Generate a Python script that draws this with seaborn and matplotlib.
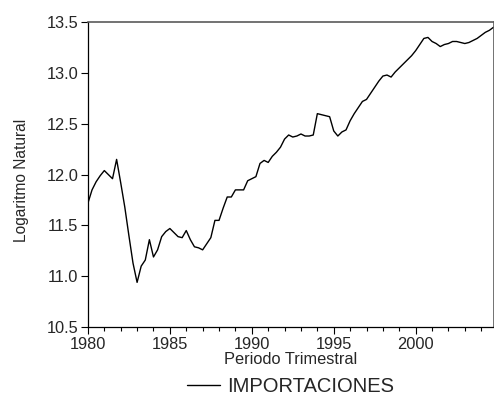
import matplotlib
matplotlib.use("Agg")
import matplotlib.pyplot as plt
from matplotlib.ticker import MultipleLocator, FormatStrFormatter
import numpy as np
import pandas as pd
import seaborn as sns

# Quarterly series, 1980Q1 - 2004Q4 (log of imports)
start_year = 1980
quarters_per_year = 4
importaciones = [
    11.72, 11.85, 11.93, 11.99, 12.04, 12.00, 11.96, 12.15, 11.92, 11.68,
    11.40, 11.13, 10.94, 11.10, 11.16, 11.36, 11.19, 11.26, 11.39, 11.44,
    11.47, 11.43, 11.39, 11.38, 11.45, 11.36, 11.29, 11.28, 11.26, 11.32,
    11.38, 11.55, 11.55, 11.67, 11.78, 11.78, 11.85, 11.85, 11.85, 11.94,
    11.96, 11.98, 12.11, 12.14, 12.12, 12.18, 12.22, 12.27, 12.35, 12.39,
    12.37, 12.38, 12.40, 12.38, 12.38, 12.39, 12.60, 12.59, 12.58, 12.57,
    12.43, 12.38, 12.42, 12.44, 12.53, 12.60, 12.66, 12.72, 12.74, 12.80,
    12.86, 12.92, 12.97, 12.98, 12.96, 13.01, 13.05, 13.09, 13.13, 13.17,
    13.22, 13.28, 13.34, 13.35, 13.31, 13.29, 13.26, 13.28, 13.29, 13.31,
    13.31, 13.30, 13.29, 13.30, 13.32, 13.34, 13.37, 13.40, 13.42, 13.45,
]
x_ticks = [1980, 1985, 1990, 1995, 2000]
y_ticks = [10.5, 11.0, 11.5, 12.0, 12.5, 13.0, 13.5]
series_name = "IMPORTACIONES"

periodo = start_year + np.arange(len(importaciones)) / quarters_per_year
df = pd.DataFrame({"Periodo": periodo, "Valor": importaciones, "Serie": series_name})

sns.set_theme(style="white")
plt.rcParams["font.family"] = ["Liberation Sans", "DejaVu Sans"]

fig = plt.figure(figsize=(4.94, 3.96), dpi=100)
ax = fig.add_axes([0.178, 0.174, 0.821, 0.770])

sns.lineplot(data=df, x="Periodo", y="Valor", hue="Serie", palette=["black"],
             linewidth=1.0, ax=ax, legend=False)

ax.set_xlim(periodo[0], periodo[-1])
ax.set_ylim(10.5, 13.5)
ax.set_xticks(x_ticks)
ax.xaxis.set_minor_locator(MultipleLocator(1))
ax.set_yticks(y_ticks)
ax.yaxis.set_major_formatter(FormatStrFormatter("%.1f"))

ax.tick_params(axis="both", which="major", direction="out", length=5, width=0.8,
               color="black", labelsize=11.8, pad=2, bottom=True, left=True)
ax.tick_params(axis="x", which="minor", direction="out", length=3, width=0.8,
               color="black", bottom=True)

for side in ["left", "bottom"]:
    ax.spines[side].set_color("black")
    ax.spines[side].set_linewidth(0.9)
for side in ["top", "right"]:
    ax.spines[side].set_color("#5a5a5a")
    ax.spines[side].set_linewidth(1.2)

ax.set_xlabel("Periodo Trimestral", fontsize=11.8, labelpad=0)
ax.set_ylabel("Logaritmo Natural", fontsize=11.2, labelpad=14)
ax.yaxis.set_label_coords(-0.145, 0.48)

handle = plt.Line2D([], [], color="black", linewidth=1.0)
fig.legend([handle], [series_name], loc="center", bbox_to_anchor=(0.589, 0.023),
           frameon=False, fontsize=14.5, handlelength=1.6, handletextpad=0.4,
           borderaxespad=0)

fig.savefig("out.png", dpi=100)
